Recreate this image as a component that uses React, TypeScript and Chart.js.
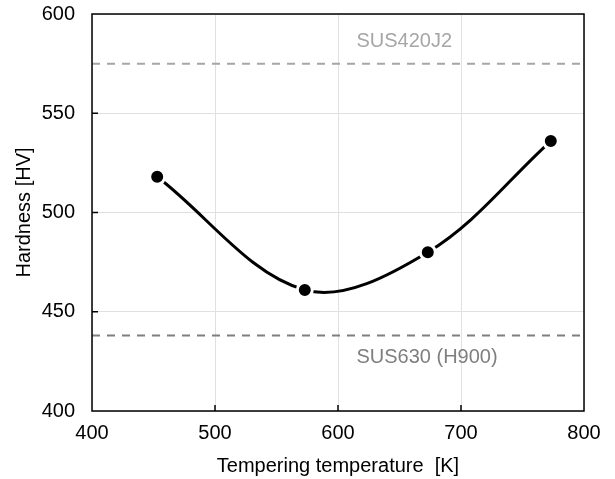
import React, { useEffect, useRef } from "react";
import { Chart, registerables } from "chart.js";

Chart.register(...registerables);

// Data
const temperatures = [453, 573, 673, 773];
const hardness = [518, 461, 480, 536];
const refValues = [575, 438];
const refLabels = ["SUS420J2", "SUS630 (H900)"];
const refColors = ["#a6a6a6", "#7f7f7f"];
const refLabelX = 615;
const refLabelY = [586, 427];
const xRange = [400, 800];
const yRange = [400, 600];
const xStep = 100;
const yStep = 50;
const xTitle = "Tempering temperature  [K]";
const yTitle = "Hardness [HV]";

const FONT = "'Liberation Sans', Arial, sans-serif";
const FS = 20;

const framePlugin = {
  id: "frame",
  afterDatasetsDraw(chart: any) {
    const { ctx, chartArea: a, scales } = chart;
    const xs = scales.x;
    const ys = scales.y;
    ctx.save();
    ctx.font = `${FS}px ${FONT}`;
    ctx.textAlign = "left";
    ctx.textBaseline = "middle";
    refLabels.forEach((t, i) => {
      ctx.fillStyle = refColors[i];
      ctx.fillText(t, xs.getPixelForValue(refLabelX), ys.getPixelForValue(refLabelY[i]));
    });
    ctx.strokeStyle = "#000";
    ctx.lineWidth = 1.5;
    ctx.beginPath();
    for (let v = yRange[0] + yStep; v < yRange[1]; v += yStep) {
      const py = ys.getPixelForValue(v);
      ctx.moveTo(a.left, py);
      ctx.lineTo(a.left + 6, py);
    }
    for (let v = xRange[0] + xStep; v < xRange[1]; v += xStep) {
      const px = xs.getPixelForValue(v);
      ctx.moveTo(px, a.bottom);
      ctx.lineTo(px, a.bottom - 6);
    }
    ctx.stroke();
    ctx.strokeRect(a.left, a.top, a.right - a.left, a.bottom - a.top);
    ctx.restore();
  },
};

export default function App() {
  const ref = useRef<HTMLCanvasElement | null>(null);
  useEffect(() => {
    if (!ref.current) return;
    const refSets = refValues.map((v, i) => ({
      data: [
        { x: xRange[0], y: v },
        { x: xRange[1], y: v },
      ],
      borderColor: refColors[i],
      borderWidth: 2,
      borderDash: [8, 7],
      pointRadius: 0,
      fill: false,
      tension: 0,
    }));
    const chart = new Chart(ref.current, {
      type: "line",
      data: {
        datasets: [
          ...refSets,
          {
            data: temperatures.map((t, i) => ({ x: t, y: hardness[i] })),
            borderColor: "#000",
            borderWidth: 3,
            tension: 0.35,
            cubicInterpolationMode: "default",
            pointRadius: 7.5,
            pointBackgroundColor: "#000",
            pointBorderColor: "#fff",
            pointBorderWidth: 3,
            fill: false,
          },
        ],
      },
      options: {
        animation: false,
        responsive: true,
        maintainAspectRatio: false,
        layout: { padding: { top: 14, right: 31, left: 0, bottom: 0 } },
        plugins: { legend: { display: false }, tooltip: { enabled: false } },
        scales: {
          x: {
            type: "linear",
            min: xRange[0],
            max: xRange[1],
            ticks: { stepSize: xStep, color: "#000", font: { family: FONT, size: FS }, padding: 10 },
            grid: { color: "#e0e0e0", lineWidth: 1, drawTicks: false },
            border: { display: false },
            title: { display: true, text: xTitle, color: "#000", font: { family: FONT, size: FS }, padding: { top: 0, bottom: 1 } },
            afterFit: (s: any) => { s.height = 68; s.paddingLeft = 0; s.paddingRight = 0; },
          },
          y: {
            type: "linear",
            min: yRange[0],
            max: yRange[1],
            ticks: { stepSize: yStep, color: "#000", font: { family: FONT, size: FS }, padding: 17 },
            grid: { color: "#e0e0e0", lineWidth: 1, drawTicks: false },
            border: { display: false },
            title: { display: true, text: yTitle, color: "#000", font: { family: FONT, size: FS }, padding: { top: 12, bottom: 0 } },
            afterFit: (s: any) => { s.width = 92; s.paddingTop = 0; s.paddingBottom = 0; },
          },
        },
      },
      plugins: [framePlugin],
    } as any);
    return () => chart.destroy();
  }, []);
  return (
    <div style={{ position: "fixed", left: 0, top: 0, width: 615, height: 479, background: "#fff" }}>
      <canvas ref={ref} />
    </div>
  );
}
